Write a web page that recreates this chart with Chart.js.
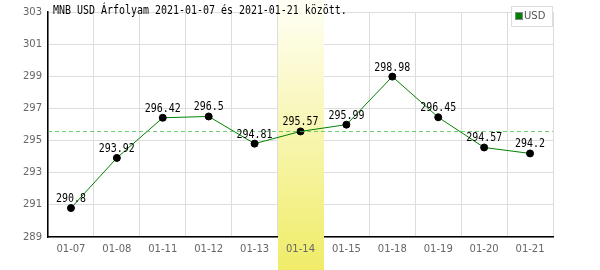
<!DOCTYPE html>
<html><head><meta charset="utf-8">
<script src="https://cdn.jsdelivr.net/npm/chart.js@4/dist/chart.umd.min.js"></script>
<style>html,body{margin:0;padding:0;background:#fff}#w{width:600px;height:270px}</style>
</head><body><div id="w"><canvas id="c" width="600" height="270"></canvas></div>
<script>
const categories = ['01-07','01-08','01-11','01-12','01-13','01-14','01-15','01-18','01-19','01-20','01-21'];
const usdValues = [290.8,293.92,296.42,296.5,294.81,295.57,295.99,298.98,296.45,294.57,294.2];
const yTicks = [289,291,293,295,297,299,301,303];
const refLine = 295.6;
const highlightIndex = 5;
const titleText = 'MNB USD Árfolyam 2021-01-07 és 2021-01-21 között.';
const seriesName = 'USD';

function monoText(ctx, s, x, y, align){
  ctx.save();
  ctx.font = '12px "DejaVu Sans Mono"';
  ctx.textBaseline = 'alphabetic';
  const sx = 0.83;
  const w = ctx.measureText(s).width * sx;
  let lx = x;
  if (align === 'center') lx = x - w/2;
  ctx.translate(lx, y);
  ctx.scale(sx, 1);
  ctx.textAlign = 'left';
  ctx.fillText(s, 0, 0);
  ctx.restore();
}

const deco = {
  id:'deco',
  beforeDatasetsDraw(chart){
    const {ctx, scales:{x,y}, chartArea:ca} = chart;
    const w = (x.getPixelForValue(1)-x.getPixelForValue(0));
    const cx = x.getPixelForValue(highlightIndex);
    const g = ctx.createLinearGradient(0,0,0,270);
    g.addColorStop(0,'#fffff6');
    g.addColorStop(1,'#f0ec68');
    ctx.save();
    ctx.fillStyle = g;
    ctx.fillRect(Math.round(cx-w/2),0,Math.round(w),270);
    ctx.fillStyle='#666'; ctx.font='10px "DejaVu Sans"'; ctx.textAlign='center'; ctx.textBaseline='middle';
    ctx.fillText(categories[highlightIndex], cx, ca.bottom + 12);
    ctx.restore();
  },
  afterDatasetsDraw(chart){
    const {ctx, scales:{x,y}, chartArea:ca} = chart;
    ctx.save();
    const ry = Math.round(y.getPixelForValue(refLine))+0.5;
    ctx.strokeStyle='#44bb44'; ctx.globalAlpha=0.75; ctx.lineWidth=1; ctx.setLineDash([4,3]);
    ctx.beginPath(); ctx.moveTo(ca.left,ry); ctx.lineTo(ca.right,ry); ctx.stroke();
    ctx.setLineDash([]); ctx.globalAlpha=1;
    ctx.fillStyle='#000';
    usdValues.forEach((v,i)=>{
      monoText(ctx, String(v), x.getPixelForValue(i), y.getPixelForValue(v)-6, 'center');
    });
    monoText(ctx, titleText, 53, 14, 'left');
    ctx.fillStyle='#fff'; ctx.fillRect(511,6,41,20);
    ctx.strokeStyle='#dddddd'; ctx.lineWidth=1; ctx.strokeRect(511.5,6.5,41,20);
    ctx.fillStyle='#008000'; ctx.fillRect(516,13,6,6);
    ctx.strokeStyle='#888'; ctx.strokeRect(515.5,12.5,7,7);
    ctx.fillStyle='#555'; ctx.font='10px "DejaVu Sans"'; ctx.textAlign='left'; ctx.textBaseline='middle';
    ctx.fillText(seriesName, 524, 16.5);
    ctx.restore();
  }
};

new Chart(document.getElementById('c'),{
  type:'line',
  data:{labels:categories,datasets:[{label:seriesName,data:usdValues,borderColor:'#008000',borderWidth:1,
    pointBackgroundColor:'#000',pointBorderColor:'#000',pointRadius:3.5,tension:0}]},
  options:{
    responsive:false,animation:false,devicePixelRatio:1,
    layout:{padding:{top:12,right:47,left:0,bottom:0}},
    plugins:{legend:{display:false},tooltip:{enabled:false}},
    scales:{
      x:{offset:true,grid:{offset:true,color:'#dddddd',drawTicks:false},border:{color:'#000',width:1.5},
        ticks:{color:'#666',font:{family:'DejaVu Sans',size:10},padding:6,maxRotation:0},
        afterFit(s){s.height=33;}},
      y:{min:289,max:303,afterBuildTicks(s){s.ticks=yTicks.map(v=>({value:v}));},
        grid:{color:'#dddddd',drawTicks:false},border:{color:'#000',width:1.5},
        ticks:{color:'#666',font:{family:'DejaVu Sans',size:10},padding:6},
        afterFit(s){s.width=48;}}
    }
  },
  plugins:[deco]
});
</script></body></html>
